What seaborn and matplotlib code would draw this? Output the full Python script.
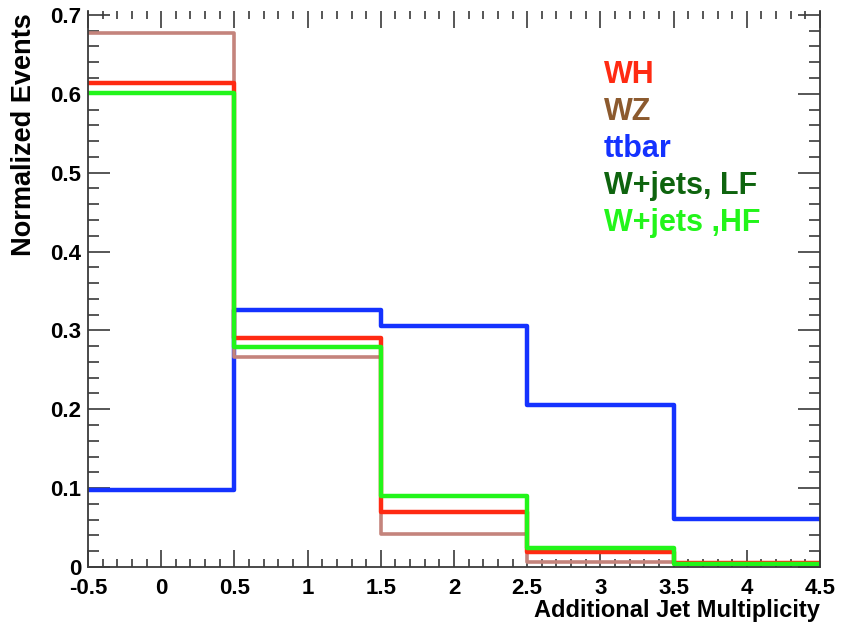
import numpy as np
import pandas as pd
import seaborn as sns
import matplotlib.pyplot as plt
from matplotlib.ticker import MultipleLocator

# Binning: integer jet multiplicities 0..4
bin_edges = [-0.5, 0.5, 1.5, 2.5, 3.5, 4.5]
multiplicity = [0, 1, 2, 3, 4]

# Normalized event fractions per sample
ttbar = [0.098, 0.326, 0.306, 0.205, 0.061]
wz = [0.677, 0.266, 0.042, 0.006, 0.004]
wh = [0.614, 0.290, 0.070, 0.019, 0.005]
wjets_hf = [0.601, 0.279, 0.090, 0.024, 0.004]

legend_labels = ["WH", "WZ", "ttbar", "W+jets, LF", "W+jets ,HF"]
legend_colors = ["#ff2a12", "#8c5a2e", "#1432ff", "#0e640e", "#22f51a"]

sns.set_theme(style="white")
plt.rcParams["font.family"] = ["Liberation Sans", "DejaVu Sans"]
plt.rcParams["font.weight"] = "bold"
plt.rcParams["text.color"] = "black"

fig = plt.figure(figsize=(8.42, 6.25), dpi=100)
ax = fig.add_axes([88 / 842, 1 - 567 / 625, (820 - 88) / 842, (567 - 11) / 625])

# draw order: ttbar, WZ, WH, then W+jets HF on top
samples = [
    (ttbar, "#1432ff", 3.2),
    (wz, "#c4847c", 2.6),
    (wh, "#ff2a12", 3.2),
    (wjets_hf, "#22f51a", 3.2),
]
for values, color, lw in samples:
    df = pd.DataFrame({"njet": multiplicity, "frac": values})
    sns.histplot(data=df, x="njet", weights="frac", bins=bin_edges,
                 element="step", fill=False, color=color, linewidth=lw,
                 ax=ax)

ax.set_xlim(-0.5, 4.5)
ax.set_ylim(0, 0.705)
ax.set_xlabel("")
ax.set_ylabel("")

ax.xaxis.set_major_locator(MultipleLocator(0.5))
ax.xaxis.set_minor_locator(MultipleLocator(0.1))
ax.yaxis.set_major_locator(MultipleLocator(0.1))
ax.yaxis.set_minor_locator(MultipleLocator(0.02))
ax.set_xticklabels([f"{t:g}" for t in ax.get_xticks()])
ax.set_yticklabels([f"{t:g}" for t in ax.get_yticks()])

tick_color = "#3a3a3a"
ax.tick_params(axis="y", which="both", direction="in", left=True, right=True,
               colors=tick_color, labelcolor="black", labelsize=16, pad=5)
ax.tick_params(axis="y", which="major", length=16, width=1.2)
ax.tick_params(axis="y", which="minor", length=8, width=1.2)
ax.tick_params(axis="x", which="both", direction="in", bottom=True, top=True,
               colors=tick_color, labelcolor="black", labelsize=16, pad=8)
ax.tick_params(axis="x", which="major", length=12, width=1.2)
ax.tick_params(axis="x", which="minor", length=6, width=1.2)
for lab in ax.get_xticklabels() + ax.get_yticklabels():
    lab.set_fontweight("bold")

for side in ["left", "bottom", "right"]:
    ax.spines[side].set_visible(True)
    ax.spines[side].set_color(tick_color)
    ax.spines[side].set_linewidth(1.3)
ax.spines["top"].set_visible(False)

# sample labels, coloured text in the upper right
for i, (label, color) in enumerate(zip(legend_labels, legend_colors)):
    fig.text(604 / 842, 1 - (83 + 37 * i) / 625, label, color=color,
             fontsize=22, fontweight="bold", ha="left", va="baseline")

fig.text(820 / 842, 1 - 617 / 625, "Additional Jet Multiplicity",
         fontsize=17, fontweight="bold", ha="right", va="baseline",
         color="black")
fig.text(37 / 842, 1 - 256 / 625, "Normalized Events", rotation=90,
         fontsize=19.5, fontweight="bold", ha="right", va="bottom",
         color="black")

fig.savefig("out.png", dpi=100)
